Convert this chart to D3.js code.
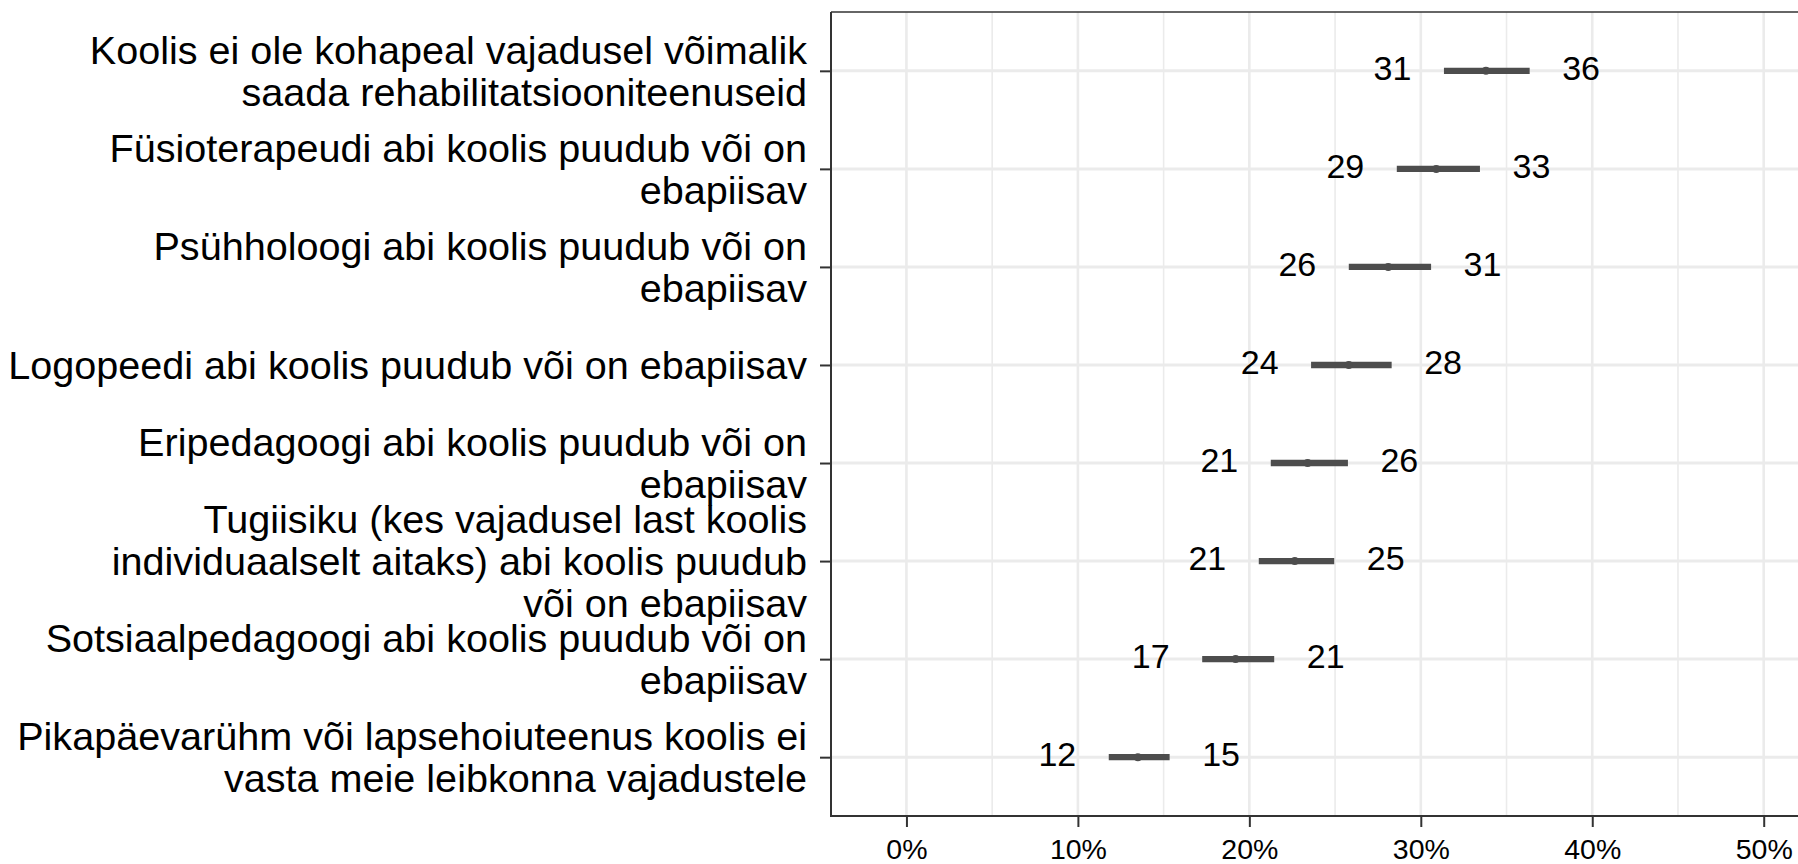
<!DOCTYPE html>
<html>
<head>
<meta charset="utf-8">
<script src="https://cdnjs.cloudflare.com/ajax/libs/d3/7.8.5/d3.min.js"></script>
<style>
  body { margin: 0; background: #fff; }
  svg { display: block; font-family: "Liberation Sans", Arial, sans-serif; }
</style>
</head>
<body>
<svg id="chart" width="1798" height="864"></svg>
<script>
// categories (top to bottom), each split into its printed lines
var categories = [
  ["Koolis ei ole kohapeal vajadusel võimalik", "saada rehabilitatsiooniteenuseid"],
  ["Füsioterapeudi abi koolis puudub või on", "ebapiisav"],
  ["Psühholoogi abi koolis puudub või on", "ebapiisav"],
  ["Logopeedi abi koolis puudub või on ebapiisav"],
  ["Eripedagoogi abi koolis puudub või on", "ebapiisav"],
  ["Tugiisiku (kes vajadusel last koolis", "individuaalselt aitaks) abi koolis puudub", "või on ebapiisav"],
  ["Sotsiaalpedagoogi abi koolis puudub või on", "ebapiisav"],
  ["Pikapäevarühm või lapsehoiuteenus koolis ei", "vasta meie leibkonna vajadustele"]
];
var estimate = [33.8, 30.9, 28.1, 25.8, 23.4, 22.65, 19.2, 13.5];
var lower    = [31.35, 28.6, 25.8, 23.6, 21.25, 20.55, 17.25, 11.8];
var upper    = [36.35, 33.45, 30.6, 28.3, 25.75, 24.95, 21.45, 15.35];
var lowerLabels = ["31", "29", "26", "24", "21", "21", "17", "12"];
var upperLabels = ["36", "33", "31", "28", "26", "25", "21", "15"];
var xTicks = [0, 10, 20, 30, 40, 50];
var xMinor = [5, 15, 25, 35, 45];

var svg = d3.select("#chart");
var panelL = 831, panelR = 1798, panelT = 12, panelB = 816;

var x = d3.scaleLinear().domain([-4.4, 52]).range([panelL, panelR]);
var y = d3.scalePoint().domain(d3.range(categories.length)).range([panelT, panelB]).padding(0.6);

// gridlines
svg.append("g").selectAll("line").data(xMinor).enter().append("line")
  .attr("x1", d => x(d)).attr("x2", d => x(d))
  .attr("y1", panelT).attr("y2", panelB)
  .style("stroke", "#ebebeb").style("stroke-width", 1.6);
svg.append("g").selectAll("line").data(xTicks).enter().append("line")
  .attr("x1", d => x(d)).attr("x2", d => x(d))
  .attr("y1", panelT).attr("y2", panelB)
  .style("stroke", "#ebebeb").style("stroke-width", 2.6);
svg.append("g").selectAll("line").data(d3.range(categories.length)).enter().append("line")
  .attr("x1", panelL).attr("x2", panelR)
  .attr("y1", d => y(d)).attr("y2", d => y(d))
  .style("stroke", "#ebebeb").style("stroke-width", 3);

// panel top border
svg.append("line")
  .attr("x1", panelL).attr("x2", panelR).attr("y1", panelT).attr("y2", panelT)
  .style("stroke", "#333").style("stroke-width", 1.5);

// intervals + points
var rows = svg.append("g").selectAll("g").data(d3.range(categories.length)).enter().append("g");
rows.append("line")
  .attr("x1", i => x(lower[i])).attr("x2", i => x(upper[i]))
  .attr("y1", i => y(i)).attr("y2", i => y(i))
  .style("stroke", "#4d4d4d").style("stroke-width", 6.3);
rows.append("circle")
  .attr("cx", i => x(estimate[i])).attr("cy", i => y(i)).attr("r", 4)
  .style("fill", "#4d4d4d");
rows.append("text")
  .attr("x", i => x(lower[i] - 3)).attr("y", i => y(i) + 9)
  .attr("text-anchor", "middle").style("font-size", "34px").style("fill", "#000")
  .text(i => lowerLabels[i]);
rows.append("text")
  .attr("x", i => x(upper[i] + 3)).attr("y", i => y(i) + 9)
  .attr("text-anchor", "middle").style("font-size", "34px").style("fill", "#000")
  .text(i => upperLabels[i]);

// x axis
var xAxis = svg.append("g").attr("transform", "translate(0," + panelB + ")")
  .call(d3.axisBottom(x).tickValues(xTicks).tickFormat(d => d + "%").tickSize(11).tickPadding(12));
xAxis.select(".domain").remove();
xAxis.selectAll(".tick line").style("stroke", "#333").style("stroke-width", 2);
xAxis.selectAll(".tick text").style("font-size", "28.5px").style("fill", "#000")
  .style("font-family", "'Liberation Sans', Arial, sans-serif");

// y axis
var yAxis = svg.append("g").attr("transform", "translate(" + panelL + ",0)")
  .call(d3.axisLeft(y).tickSize(11).tickFormat(""));
yAxis.select(".domain").remove();
yAxis.selectAll(".tick line").style("stroke", "#333").style("stroke-width", 2);

var fs = 39.6, lh = 42, capH = 0.716 * fs;
var labels = svg.append("g").selectAll("text").data(d3.range(categories.length)).enter().append("text")
  .attr("text-anchor", "end").style("font-size", fs + "px").style("fill", "#000");
labels.each(function (i) {
  var lines = categories[i];
  var base = y(i) + capH / 2 - (lines.length - 1) * lh / 2;
  var t = d3.select(this);
  lines.forEach(function (ln, k) {
    t.append("tspan").attr("x", 807).attr("y", base + k * lh).text(ln);
  });
});

// axis lines
svg.append("line")
  .attr("x1", panelL).attr("x2", panelL).attr("y1", panelT).attr("y2", panelB + 1)
  .style("stroke", "#333").style("stroke-width", 2);
svg.append("line")
  .attr("x1", panelL - 1).attr("x2", panelR).attr("y1", panelB).attr("y2", panelB)
  .style("stroke", "#333").style("stroke-width", 2);
</script>
</body>
</html>
